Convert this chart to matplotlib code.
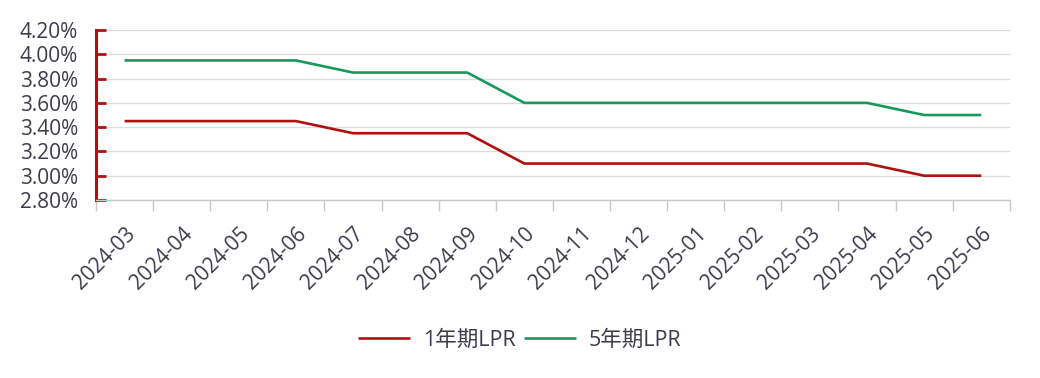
import matplotlib
matplotlib.use("Agg")
import matplotlib.pyplot as plt
from matplotlib.ticker import FixedLocator, FuncFormatter
import numpy as np

months = ["2024-03", "2024-04", "2024-05", "2024-06", "2024-07", "2024-08",
          "2024-09", "2024-10", "2024-11", "2024-12", "2025-01", "2025-02",
          "2025-03", "2025-04", "2025-05", "2025-06"]
lpr_1y = [3.45, 3.45, 3.45, 3.45, 3.35, 3.35, 3.35, 3.10, 3.10, 3.10,
          3.10, 3.10, 3.10, 3.10, 3.00, 3.00]
lpr_5y = [3.95, 3.95, 3.95, 3.95, 3.85, 3.85, 3.85, 3.60, 3.60, 3.60,
          3.60, 3.60, 3.60, 3.60, 3.50, 3.50]
series_names = ["1年期LPR", "5年期LPR"]

plt.rcParams['font.family'] = ['Open Sans', 'Noto Sans CJK SC', 'DejaVu Sans']
text_color = "#3c3c4c"
red = "#B01010"
green = "#16995A"

fig = plt.figure(figsize=(10.4, 3.78), dpi=100)
ax = fig.add_axes([0.0923, 0.471, 0.971 - 0.0923, 0.4494])

x = np.arange(len(months))
ax.plot(x, lpr_1y, color=red, lw=1.9, label=series_names[0], solid_capstyle='butt')
ax.plot(x, lpr_5y, color=green, lw=1.9, label=series_names[1], solid_capstyle='butt')

ax.set_xlim(-0.5, len(months) - 0.5)
ax.set_ylim(2.80, 4.20)
yt = np.arange(2.80, 4.2001, 0.20)
ax.set_yticks(yt)
ax.yaxis.set_major_formatter(FuncFormatter(lambda v, p: f"{v:.2f}%"))
ax.grid(axis='y', color="#dcdcdc", lw=0.9)
ax.set_axisbelow(True)

ax.set_xticks(x)
ax.set_xticklabels(months, rotation=45, ha='right', rotation_mode='anchor',
                   fontsize=15, color=text_color)
ax.xaxis.set_minor_locator(FixedLocator(np.arange(-0.5, len(months), 1.0)))
ax.tick_params(axis='x', which='major', length=0, pad=17)
ax.tick_params(axis='x', which='minor', length=8, color="#c8c8c8", width=1, direction='out')

ax.tick_params(axis='y', which='major', direction='in', length=7, width=2,
               color=red, labelsize=15, labelcolor=text_color, pad=13)

for s in ['top', 'right']:
    ax.spines[s].set_visible(False)
ax.spines['left'].set_color(red)
ax.spines['left'].set_linewidth(2.2)
ax.spines['bottom'].set_color("#c8c8c8")
ax.spines['bottom'].set_linewidth(1)

leg = fig.legend(loc='center', bbox_to_anchor=(0.5, 0.10), ncol=2, frameon=False,
                 fontsize=15.5, handlelength=2.4, columnspacing=0.4, handletextpad=0.6)
for t in leg.get_texts():
    t.set_color(text_color)

fig.savefig("out.png", dpi=100, facecolor="white")
